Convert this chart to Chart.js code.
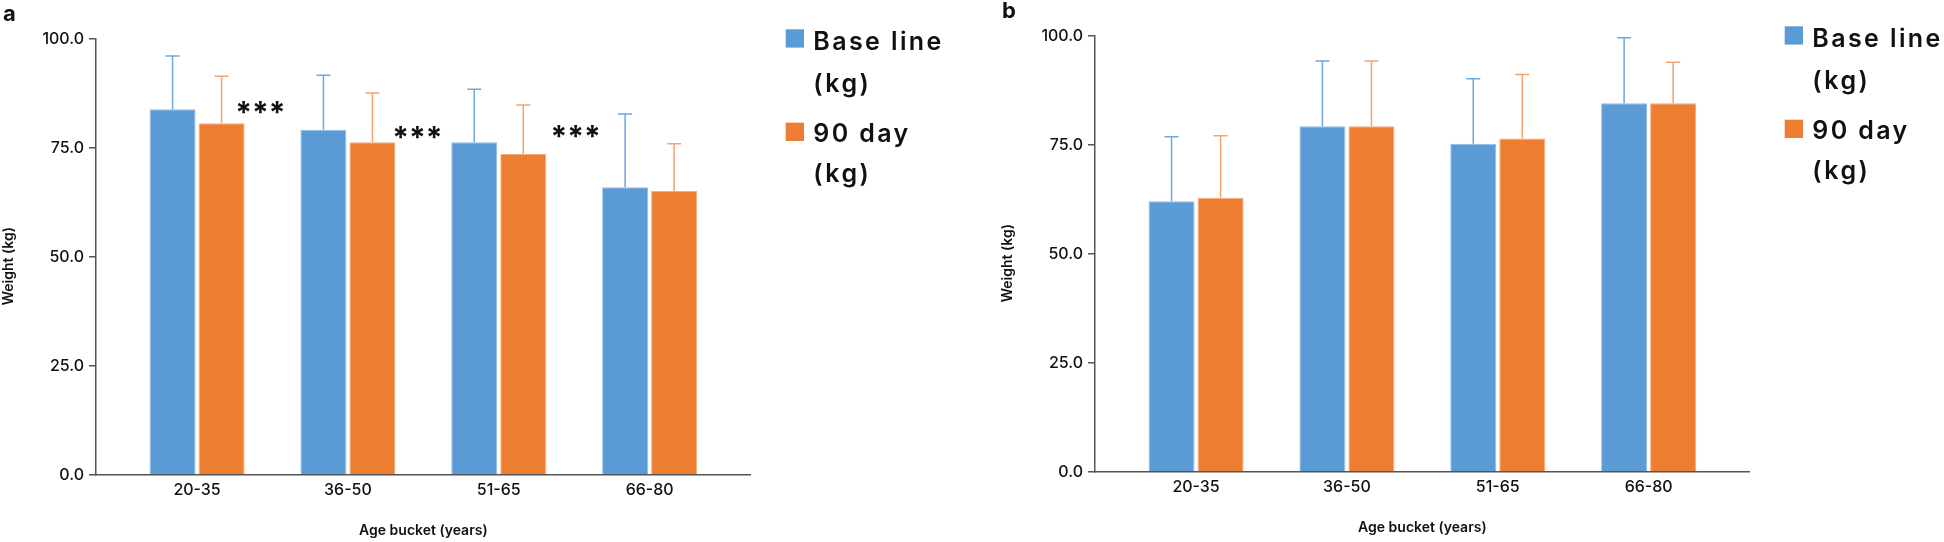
<!DOCTYPE html>
<html><head><meta charset="utf-8">
<script src="https://cdn.jsdelivr.net/npm/chart.js@4.4.1/dist/chart.umd.min.js"></script>
<style>
html,body{margin:0;padding:0;background:#fff;width:1944px;height:542px;overflow:hidden;position:relative;}
#wa{position:absolute;left:0;top:0;width:972px;height:542px;}
#wb{position:absolute;left:999px;top:-3.4px;width:945px;height:542px;}
canvas{display:block;}
</style></head><body>
<div id="wa"><canvas id="ca" width="972" height="542"></canvas></div>
<div id="wb"><canvas id="cb" width="945" height="542"></canvas></div>
<script>
// ---- data ----
const categories = ['20-35', '36-50', '51-65', '66-80'];
const yTickValues = [0, 25, 50, 75, 100];
const seriesNames = ['Base line (kg)', '90 day (kg)'];

// panel a
const baseA = [83.9, 79.2, 76.3, 66.0];
const baseSdA = [12.2, 12.5, 12.2, 16.8];
const ninetyA = [80.7, 76.3, 73.6, 65.1];
const ninetySdA = [10.8, 11.3, 11.3, 10.9];
// significance markers for panel a (category position, value)
const sigLabel = '***';
const sigPosA = [0.42, 1.46, 2.51];
const sigValA = [84.2, 78.6, 78.8];

// panel b
const baseB = [62.1, 79.3, 75.3, 84.6];
const baseSdB = [14.8, 15.0, 14.9, 15.0];
const ninetyB = [62.9, 79.3, 76.5, 84.6];
const ninetySdB = [14.2, 15.0, 14.7, 9.4];

// ---- styles ----
const BLUE = '#5B9BD5', BLUE_EDGE = '#93BDE6', BLUE_ERR = '#6DA7DE';
const ORANGE = '#ED7D31', ORANGE_EDGE = '#F4AC7A', ORANGE_ERR = '#F3A46E';
const AXIS = '#555555', TEXT = '#111111';
const FONT = 'Inter, "DejaVu Sans", sans-serif';

const errorBars = {
  id: 'errorBars',
  afterDatasetsDraw(chart) {
    const ctx = chart.ctx, ys = chart.scales.y;
    chart.data.datasets.forEach((ds, di) => {
      const meta = chart.getDatasetMeta(di);
      meta.data.forEach((bar, i) => {
        const top = ys.getPixelForValue(ds.data[i].y + ds.errors[i]);
        ctx.save();
        ctx.strokeStyle = ds.errorColor;
        ctx.lineWidth = 1.5;
        ctx.beginPath();
        ctx.moveTo(bar.x, bar.y);
        ctx.lineTo(bar.x, top);
        ctx.moveTo(bar.x - 7, top);
        ctx.lineTo(bar.x + 7, top);
        ctx.stroke();
        ctx.restore();
      });
    });
  }
};

const extras = {
  id: 'extras',
  afterDraw(chart) {
    const ctx = chart.ctx, ca = chart.chartArea, o = chart.options.plugins.extras;
    const xs = chart.scales.x, ys = chart.scales.y;
    ctx.save();
    // panel letter
    ctx.fillStyle = TEXT;
    ctx.font = 'bold 22px ' + FONT;
    ctx.textAlign = 'left';
    ctx.textBaseline = 'alphabetic';
    ctx.fillText(o.letter, 3, 20.7);
    // y title
    ctx.save();
    ctx.translate(ca.left - 87, (ca.top + ca.bottom) / 2 + 9.3);
    ctx.rotate(-Math.PI / 2);
    ctx.font = '600 14px ' + FONT;
    ctx.textAlign = 'center';
    ctx.textBaseline = 'middle';
    ctx.fillText('Weight (kg)', 0, 0);
    ctx.restore();
    // significance markers
    if (o.sigPos) {
      ctx.font = '700 30px ' + FONT;
      ctx.textAlign = 'center';
      ctx.textBaseline = 'alphabetic';
      const m = ctx.measureText(sigLabel);
      o.sigPos.forEach((p, i) => {
        const px = xs.getPixelForValue(p);
        const py = ys.getPixelForValue(o.sigVal[i]);
        ctx.fillText(sigLabel, px, py + (m.actualBoundingBoxAscent - m.actualBoundingBoxDescent) / 2);
      });
    }
    // legend
    const x0 = ca.left + 689.7;
    const boxTops = [-9.8, 83.6];
    const baselines = [[10.9, 52.9], [102.6, 142.6]];
    chart.data.datasets.forEach((ds, di) => {
      ctx.fillStyle = ds.backgroundColor;
      ctx.fillRect(x0, ca.top + boxTops[di], 18.3, 18.3);
      ctx.fillStyle = TEXT;
      ctx.font = '600 25px ' + FONT;
      ctx.letterSpacing = '2.4px';
      ctx.textAlign = 'left';
      ctx.textBaseline = 'alphabetic';
      const label = ds.label;
      const k = label.lastIndexOf(' ');
      const lines = [label.slice(0, k), label.slice(k + 1)];
      lines.forEach((ln, li) => ctx.fillText(ln, x0 + 27.6, ca.top + baselines[di][li]));
      ctx.letterSpacing = '0px';
    });
    ctx.restore();
  }
};

function makeChart(id, letter, base, baseSd, ninety, ninetySd, sigPos, sigVal) {
  const cv = document.getElementById(id);
  const W = cv.width;
  return new Chart(cv, {
    type: 'bar',
    data: {
      datasets: [
        { label: seriesNames[0], data: base.map((v, i) => ({ x: i, y: v })), errors: baseSd,
          backgroundColor: BLUE, borderColor: BLUE_EDGE, borderWidth: 1, errorColor: BLUE_ERR },
        { label: seriesNames[1], data: ninety.map((v, i) => ({ x: i, y: v })), errors: ninetySd,
          backgroundColor: ORANGE, borderColor: ORANGE_EDGE, borderWidth: 1, errorColor: ORANGE_ERR }
      ]
    },
    options: {
      responsive: false,
      devicePixelRatio: 1,
      animation: false,
      categoryPercentage: 0.65,
      barPercentage: 0.939,
      layout: { padding: { left: 0, top: 39.1, bottom: 0, right: W - 750.7 } },
      plugins: {
        legend: { display: false },
        tooltip: { enabled: false },
        extras: { letter, sigPos, sigVal }
      },
      scales: {
        x: {
          type: 'linear', min: -0.67, max: 3.67, offset: false,
          afterBuildTicks: s => { s.ticks = categories.map((c, i) => ({ value: i })); },
          afterFit: s => { s.height = 67.3; },
          ticks: { callback: v => categories[v], color: TEXT, padding: 6, maxRotation: 0,
                   font: { family: FONT, size: 16, weight: '500' } },
          grid: { display: false, drawTicks: false, offset: false },
          border: { display: true, color: AXIS, width: 1.5 },
          title: { display: true, text: 'Age bucket (years)', color: TEXT,
                   font: { family: FONT, size: 14, weight: '600' }, padding: { top: 0, bottom: 3 } }
        },
        y: {
          min: 0, max: 100,
          afterBuildTicks: s => { s.ticks = yTickValues.map(v => ({ value: v })); },
          afterFit: s => { s.width = 96; },
          ticks: { callback: v => Number(v).toFixed(1), color: TEXT, padding: 5,
                   font: { family: FONT, size: 16, weight: '500' } },
          grid: { display: true, drawOnChartArea: false, drawTicks: true, tickLength: 7, color: AXIS, lineWidth: 1.5 },
          border: { display: true, color: AXIS, width: 1.5 }
        }
      }
    },
    plugins: [errorBars, extras]
  });
}

makeChart('ca', 'a', baseA, baseSdA, ninetyA, ninetySdA, sigPosA, sigValA);
makeChart('cb', 'b', baseB, baseSdB, ninetyB, ninetySdB, null, null);
</script>
</body></html>
